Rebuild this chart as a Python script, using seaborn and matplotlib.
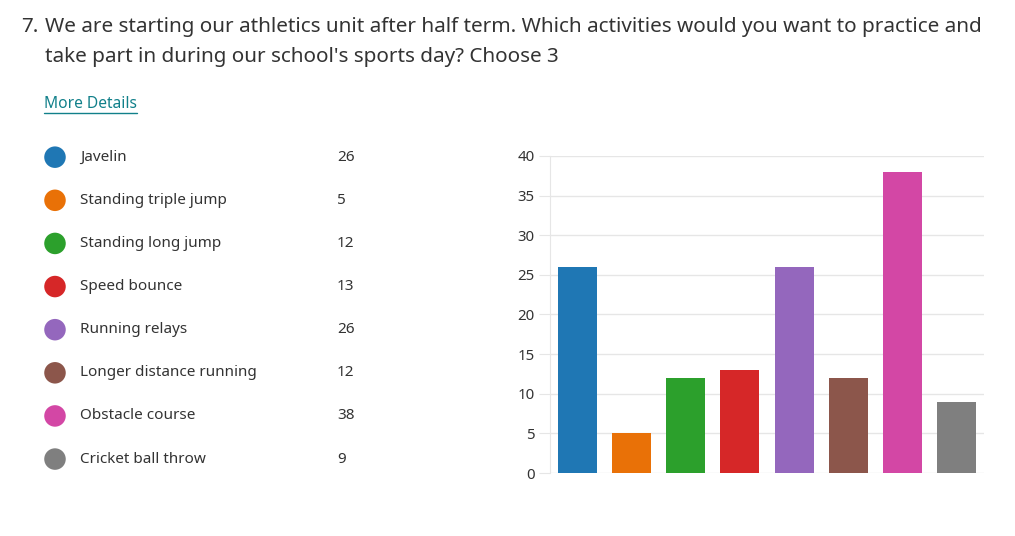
import matplotlib
matplotlib.use('Agg')
import matplotlib.pyplot as plt
import seaborn as sns
import pandas as pd

# data
activities = ['Javelin', 'Standing triple jump', 'Standing long jump', 'Speed bounce',
              'Running relays', 'Longer distance running', 'Obstacle course', 'Cricket ball throw']
counts = [26, 5, 12, 13, 26, 12, 38, 9]
colors = ['#1f77b4', '#e97107', '#2ca02c', '#d62728', '#9467bd', '#8c564b', '#d347a5', '#7f7f7f']
y_ticks = [0, 5, 10, 15, 20, 25, 30, 35, 40]

df = pd.DataFrame({'activity': activities, 'count': counts})

sns.set_style('white')
plt.rcParams['font.family'] = ['Noto Sans', 'DejaVu Sans']
text_col = '#333333'

fig = plt.figure(figsize=(10.15, 5.36), dpi=100)

# title + link
fig.text(0.021, 0.95, '7.', fontsize=14.9, color=text_col, va='center', ha='left')
fig.text(0.044, 0.95, 'We are starting our athletics unit after half term. Which activities would you want to practice and',
         fontsize=14.9, color=text_col, va='center', ha='left')
fig.text(0.044, 0.894, "take part in during our school's sports day? Choose 3",
         fontsize=14.9, color=text_col, va='center', ha='left')
fig.text(0.043, 0.806, 'More Details', fontsize=11.2, color='#11808a', va='center', ha='left')
fig.add_artist(plt.Line2D([0.043, 0.135], [0.789, 0.789], color='#11808a', linewidth=1))

# legend list
ax_leg = fig.add_axes([0.0394, 0.1033, 0.3153, 0.6437])
ax_leg.set_xlim(40, 360)
ax_leg.set_ylim(7.5, -0.5)
ax_leg.axis('off')
sns.scatterplot(x=[55] * len(activities), y=list(range(len(activities))), hue=activities,
                palette=colors, s=240, legend=False, ax=ax_leg, linewidth=0)
for i, (name, c) in enumerate(zip(activities, counts)):
    ax_leg.text(80, i, name, fontsize=11, color=text_col, va='center', ha='left')
    ax_leg.text(337, i, str(c), fontsize=11, color=text_col, va='center', ha='left')

# bar chart
ax = fig.add_axes([0.5419, 0.1175, 0.4276, 0.5915])
sns.barplot(data=df, x='activity', y='count', hue='activity', palette=colors,
            width=0.72, legend=False, ax=ax, saturation=1, linewidth=0)
ax.set_ylim(0, 40)
ax.set_xlim(-0.5, len(activities) - 0.5)
ax.set_yticks(y_ticks)
ax.set_xticks([])
ax.set_xlabel('')
ax.set_ylabel('')
ax.yaxis.grid(True, color='#e6e6e6', linewidth=1)
ax.set_axisbelow(True)
for s in ['top', 'right', 'bottom']:
    ax.spines[s].set_visible(False)
ax.spines['left'].set_color('#e6e6e6')
ax.tick_params(axis='y', length=8, color='#e6e6e6', labelsize=10.8, labelcolor=text_col, pad=3, left=True)

plt.savefig('out.png', dpi=100)
